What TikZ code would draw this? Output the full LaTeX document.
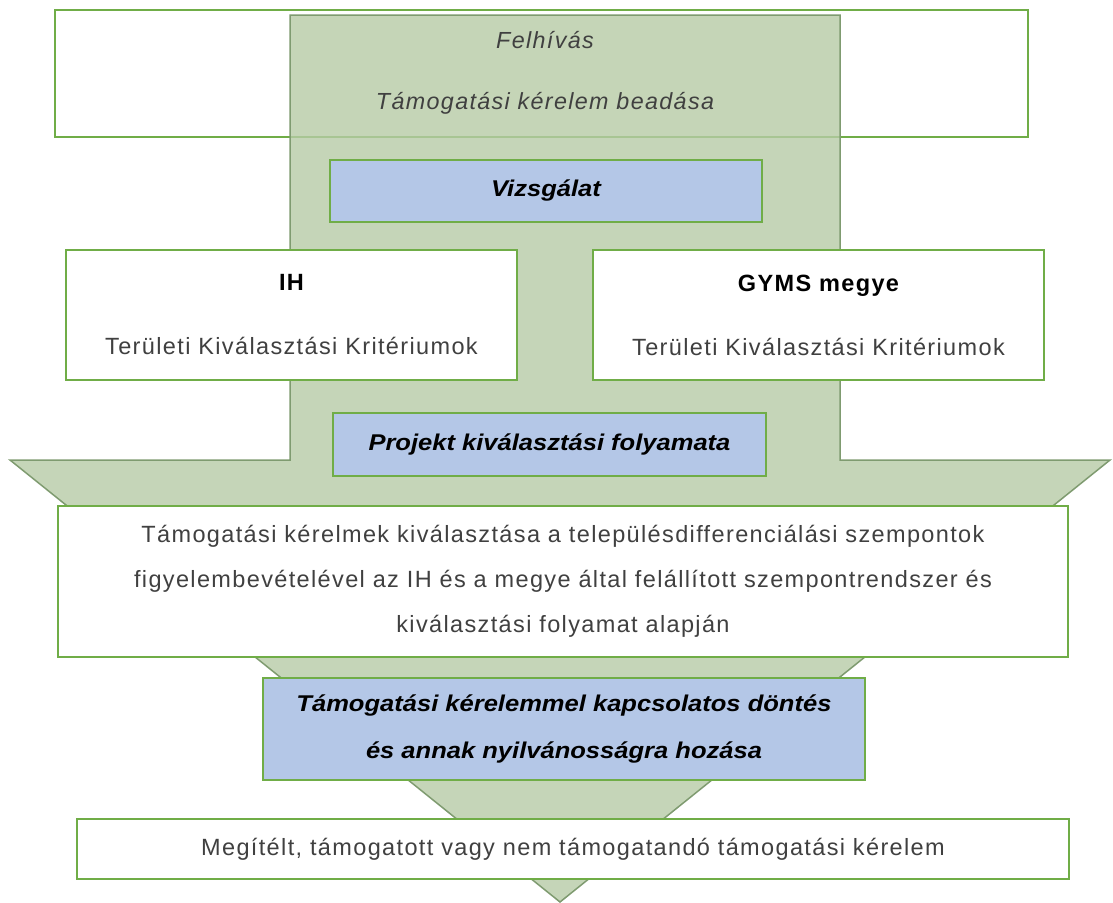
\documentclass[tikz,border=0pt]{standalone}
\usepackage{fontspec}
\setmainfont{Liberation Sans}[LetterSpace=5.8]
\newfontfamily\condfont[FakeStretch=1.12]{Liberation Sans}
\usetikzlibrary{positioning}
\definecolor{boxgreen}{HTML}{70AD47}
\definecolor{arrowfill}{HTML}{B7CBA6}
\definecolor{arrowline}{HTML}{7F9B70}
\definecolor{stepblue}{HTML}{B4C7E7}
\definecolor{txtgray}{HTML}{404040}

\begin{document}
\begin{tikzpicture}[x=1pt,y=-1pt,
  box/.style={draw=boxgreen,line width=2.5pt,fill=white,align=center,text=txtgray,inner sep=0pt,
    font=\fontsize{23.5}{45}\selectfont},
  stepbox/.style={box,fill=stepblue,text=black,font=\condfont\fontsize{22.8}{47}\selectfont\bfseries\itshape}]
  \useasboundingbox (0,0) rectangle (1113,902);
  \node[box,minimum width=973,minimum height=127] (kiiras) at (541.5,73.5) {};
  % the big arrow behind the steps
  \draw[arrowline,fill=arrowfill,fill opacity=.8,line width=1.5pt]
    (290,15) -- (840,15) -- (840,460) -- (1110,460) -- (560,902) -- (10,460) -- (290,460) -- cycle;
  \node[align=center,text=txtgray,font=\fontsize{23.3}{61}\selectfont\itshape] (felhivas) at (545,73)
    {Felhívás\\Támogatási kérelem beadása};
  \node[stepbox,minimum width=432,minimum height=62] (vizsgalat) at (546,191) {Vizsgálat};
  \node[box,minimum width=451,minimum height=130,font=\fontsize{23.5}{64}\selectfont] (ih) at (291.5,315)
    {\textbf{\color{black}IH}\\Területi Kiválasztási Kritériumok};
  \node[box,minimum width=451,minimum height=130,font=\fontsize{23.5}{64}\selectfont] (gyms) at (818.5,315)
    {\textbf{\color{black}GYMS megye}\\Területi Kiválasztási Kritériumok};
  \node[stepbox,minimum width=433,minimum height=63] (projekt) at (549.5,444.5) {Projekt kiválasztási folyamata};
  \node[box,minimum width=1010,minimum height=151] (kivalasztas) at (563,581.5)
    {Támogatási kérelmek kiválasztása a településdifferenciálási szempontok\\
     figyelembevételével az IH és a megye által felállított szempontrendszer és\\
     kiválasztási folyamat alapján};
  \node[stepbox,minimum width=602,minimum height=102] (dontes) at (564,729)
    {Támogatási kérelemmel kapcsolatos döntés\\és annak nyilvánosságra hozása};
  \node[box,minimum width=992,minimum height=60] (megitelt) at (573,849)
    {Megítélt, támogatott vagy nem támogatandó támogatási kérelem};
\end{tikzpicture}
\end{document}
